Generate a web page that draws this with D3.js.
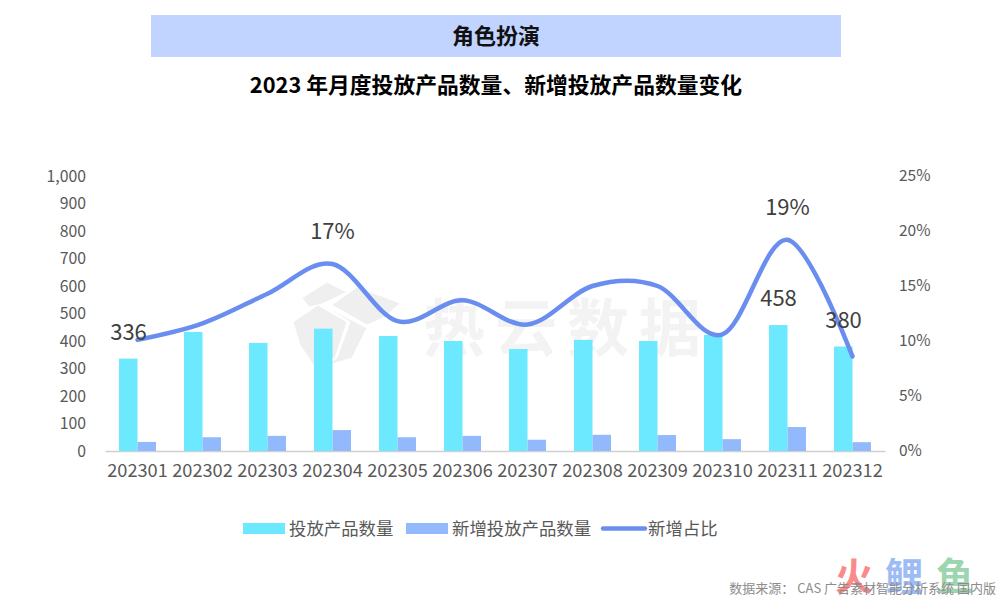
<!DOCTYPE html>
<html>
<head>
<meta charset="utf-8">
<script src="https://cdn.jsdelivr.net/npm/d3@7"></script>
<style>
body {margin:0; background:#fff; font-family:"Noto Sans CJK SC","Noto Sans",sans-serif;}
</style>
</head>
<body>
<script>
var months = ["202301","202302","202303","202304","202305","202306","202307","202308","202309","202310","202311","202312"];
var launched = [336,433,393,445,418,400,371,404,400,422,458,380];
var added = [33,50,55,76,50,55,41,59,58,43,87,32];
var share = [10.1,11.6,14.3,17.0,11.8,13.7,11.5,15.0,15.0,10.6,19.2,8.6];
var leftTicks = [0,100,200,300,400,500,600,700,800,900,1000];
var rightTicks = [0,5,10,15,20,25];
var labelMonths = {launched:["202301","202311","202312"], share:["202304","202311"]};

var svgWidth = 1001, svgHeight = 601;
var margin = {top:176, right:116, bottom:150, left:105};
var width = svgWidth-margin.left-margin.right;
var height = svgHeight-margin.top-margin.bottom;
var textColor = "#595959", font = "'Noto Sans CJK SC'";

var svg = d3.select("body").append("svg").attr("width", svgWidth).attr("height", svgHeight)
  .style("display", "block").attr("font-family", font);

// title block
svg.append("rect").attr("x", 151).attr("y", 15).attr("width", 690).attr("height", 42).attr("fill", "#c1d3ff");
svg.append("text").attr("x", 496).attr("y", 44).attr("text-anchor", "middle")
  .attr("font-size", 22).attr("font-weight", 700).attr("fill", "#111").text("角色扮演");
svg.append("text").attr("x", 496).attr("y", 93).attr("text-anchor", "middle")
  .attr("font-size", 21.8).attr("font-weight", 700).attr("fill", "#000").text("2023 年月度投放产品数量、新增投放产品数量变化");

// watermark behind the plot
var mark = svg.append("g").attr("fill", "#efefef").attr("stroke", "#fff").attr("stroke-width", 1);
["M302 298 L327 282 L347 292 L322 304 L309 307 Z",
 "M332 305 L357 287 L400 303 L385 317 L367 325 Z",
 "M293 322 L318 305 L347 322 L335 358 L314 366 L300 345 Z",
 "M324 306 L367 328 L352 358 L322 367 L337 358 L350 322 Z"].forEach(function(p){
  mark.append("path").attr("d", p);
});
svg.append("text").attr("x", 423).attr("y", 351).attr("font-size", 62).attr("letter-spacing", 10)
  .attr("font-weight", 700).attr("fill", "#f3f3f3").text("热云数据");

var chart = svg.append("g").attr("transform", `translate(${margin.left}, ${margin.top})`);

var x = d3.scaleBand().domain(months).range([0, width]);
var barWidth = 18.5;
var yLeft = d3.scaleLinear().domain([0, 1000]).range([height, 0]);
var yRight = d3.scaleLinear().domain([0, 25]).range([height, 0]);

var xAxis = d3.axisBottom(x).tickSize(0).tickPadding(13);
var gx = chart.append("g").attr("transform", `translate(0, ${height})`).call(xAxis);
gx.select(".domain").attr("stroke", "#d0d0d0").attr("stroke-width", 1.5);
gx.selectAll("text").attr("font-size", 18.2).attr("font-family", font).attr("fill", textColor);

var gl = chart.append("g").call(d3.axisLeft(yLeft).tickValues(leftTicks).tickSize(0).tickPadding(19).tickFormat(d3.format(",")));
gl.select(".domain").remove();
gl.selectAll("text").attr("font-size", 15.8).attr("font-family", font).attr("fill", textColor);

var gr = chart.append("g").attr("transform", `translate(${width}, 0)`)
  .call(d3.axisRight(yRight).tickValues(rightTicks).tickSize(0).tickPadding(14).tickFormat(d => d + "%"));
gr.select(".domain").remove();
gr.selectAll("text").attr("font-size", 15.5).attr("font-family", font).attr("fill", textColor);

chart.selectAll(".launched").data(months).enter().append("rect").attr("class", "launched")
  .attr("x", d => x(d) + x.bandwidth()/2 - barWidth).attr("width", barWidth)
  .attr("y", (d, i) => yLeft(launched[i])).attr("height", (d, i) => height - yLeft(launched[i]))
  .attr("fill", "#6ce9fe");
chart.selectAll(".added").data(months).enter().append("rect").attr("class", "added")
  .attr("x", d => x(d) + x.bandwidth()/2).attr("width", barWidth)
  .attr("y", (d, i) => yLeft(added[i])).attr("height", (d, i) => height - yLeft(added[i]))
  .attr("fill", "#91b9fb");

var line = d3.line().x(d => x(d.m) + x.bandwidth()/2).y(d => yRight(d.v)).curve(d3.curveCardinal.tension(0));
chart.append("path").datum(months.map((m, i) => ({m:m, v:share[i]})))
  .attr("d", line).attr("fill", "none").attr("stroke", "#6a8ef0").attr("stroke-width", 4.5).attr("stroke-linecap", "round");

// data labels
var labelColor = "#404040";
labelMonths.launched.forEach(function(m){
  var i = months.indexOf(m);
  chart.append("text").attr("x", x(m) + x.bandwidth()/2 - 9).attr("y", yLeft(launched[i]) - 19)
    .attr("text-anchor", "middle").attr("font-size", 22).attr("fill", labelColor).text(launched[i]);
});
labelMonths.share.forEach(function(m){
  var i = months.indexOf(m);
  chart.append("text").attr("x", x(m) + x.bandwidth()/2).attr("y", yRight(share[i]) - 25)
    .attr("text-anchor", "middle").attr("font-size", 22).attr("fill", labelColor).text(Math.round(share[i]) + "%");
});

// legend
var legend = svg.append("g");
legend.append("rect").attr("x", 243).attr("y", 523).attr("width", 42).attr("height", 11).attr("fill", "#6ce9fe");
legend.append("text").attr("x", 289).attr("y", 535).attr("font-size", 17.4).attr("fill", textColor).text("投放产品数量");
legend.append("rect").attr("x", 406).attr("y", 523).attr("width", 42).attr("height", 11).attr("fill", "#91b9fb");
legend.append("text").attr("x", 452).attr("y", 535).attr("font-size", 17.4).attr("fill", textColor).text("新增投放产品数量");
legend.append("line").attr("x1", 603).attr("x2", 645).attr("y1", 528.5).attr("y2", 528.5)
  .attr("stroke", "#6a8ef0").attr("stroke-width", 4.5).attr("stroke-linecap", "round");
legend.append("text").attr("x", 648).attr("y", 535).attr("font-size", 17.4).attr("fill", textColor).text("新增占比");

// corner stamp and source note
var stamp = svg.append("g").attr("font-size", 38).attr("font-weight", 700);
stamp.append("text").attr("x", 835).attr("y", 590).attr("fill", "#fb8a8a").text("火");
stamp.append("text").attr("x", 885).attr("y", 590).attr("fill", "#9dbcf5").text("鲤");
stamp.append("text").attr("x", 936).attr("y", 590).attr("fill", "#9dd5b0").text("鱼");
svg.append("text").attr("x", 996).attr("y", 593).attr("text-anchor", "end")
  .attr("font-size", 13).attr("fill", "#8c8c8c").text("数据来源： CAS 广告素材智能分析系统 国内版");
</script>
</body>
</html>
